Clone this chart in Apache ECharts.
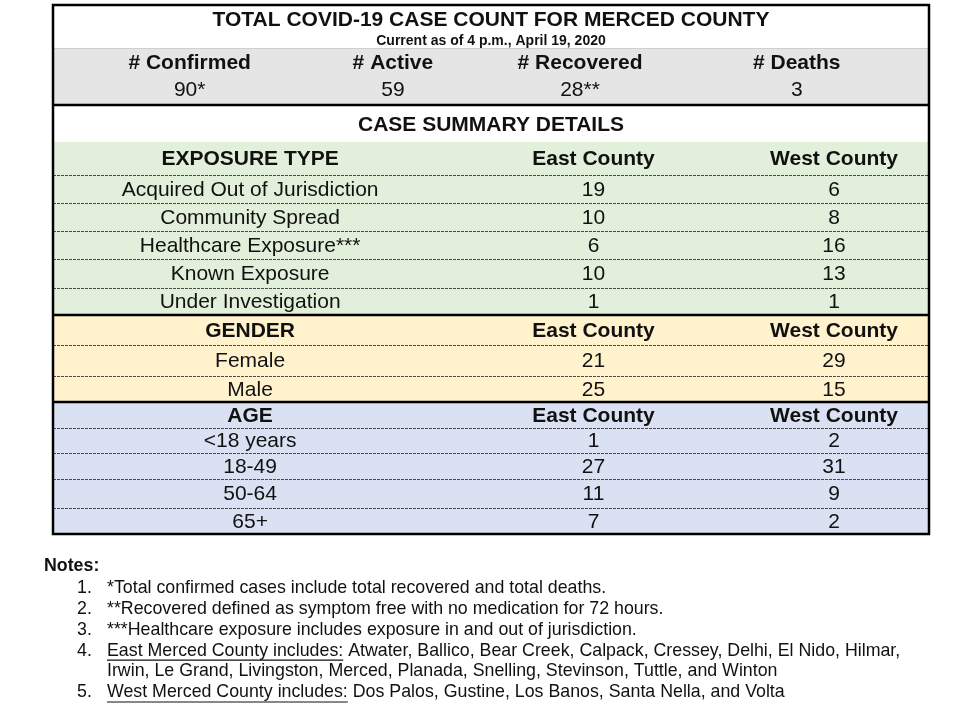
<!DOCTYPE html>
<html>
<head>
<meta charset="utf-8">
<script src="https://cdn.jsdelivr.net/npm/echarts@6/dist/echarts.min.js"></script>
<style>
  html, body { margin: 0; padding: 0; background: #fff; }
  #main { width: 960px; height: 715px; }
</style>
</head>
<body>
<div id="main"></div>
<script>
// ---- data ----
const tableTitle = 'TOTAL COVID-19 CASE COUNT FOR MERCED COUNTY';
const tableSubtitle = 'Current as of 4 p.m., April 19, 2020';
const statNames = ['# Confirmed', '# Active', '# Recovered', '# Deaths'];
const statCounts = [90, 59, 28, 3];
const statMarks = ['*', '', '**', ''];
const summaryTitle = 'CASE SUMMARY DETAILS';
const regionNames = ['East County', 'West County'];

const exposureTypes = ['Acquired Out of Jurisdiction', 'Community Spread', 'Healthcare Exposure***', 'Known Exposure', 'Under Investigation'];
const exposureEast = [19, 10, 6, 10, 1];
const exposureWest = [6, 8, 16, 13, 1];

const genders = ['Female', 'Male'];
const genderEast = [21, 25];
const genderWest = [29, 15];

const ageGroups = ['<18 years', '18-49', '50-64', '65+'];
const ageEast = [1, 27, 11, 7];
const ageWest = [2, 31, 9, 2];

const notes = [
  { lead: '', text: '*Total confirmed cases include total recovered and total deaths.' },
  { lead: '', text: '**Recovered defined as symptom free with no medication for 72 hours.' },
  { lead: '', text: '***Healthcare exposure includes exposure in and out of jurisdiction.' },
  { lead: 'East Merced County includes:', text: ' Atwater, Ballico, Bear Creek, Calpack, Cressey, Delhi, El Nido, Hilmar,', more: 'Irwin, Le Grand, Livingston, Merced, Planada, Snelling, Stevinson, Tuttle, and Winton' },
  { lead: 'West Merced County includes:', text: ' Dos Palos, Gustine, Los Banos, Santa Nella, and Volta' }
];

// ---- layout ----
const FONT = '"Liberation Sans", Arial, sans-serif';
const sections = [
  { head: 'EXPOSURE TYPE', labels: exposureTypes, east: exposureEast, west: exposureWest, color: '#e2efda' },
  { head: 'GENDER', labels: genders, east: genderEast, west: genderWest, color: '#fff2cc' },
  { head: 'AGE', labels: ageGroups, east: ageEast, west: ageWest, color: '#d9e1f2' }
];
// relative row heights (title, stats, summary, then section rows)
const rowHeights = [43, 57, 37, 33, 28, 28, 28, 29, 27, 30, 31, 26, 26, 25, 26, 29, 26];
// column centres as fractions of table width
const colCenters = [0.225, 0.617, 0.8916];
const statCenters = [0.156, 0.388, 0.6016, 0.849];

const rows = [{ kind: 'title' }, { kind: 'stats' }, { kind: 'summary' }];
sections.forEach((s, si) => {
  rows.push({ kind: 'head', s: si });
  s.labels.forEach((l, j) => rows.push({ kind: 'body', s: si, j: j }));
});
const cum = [0];
rowHeights.forEach(h => cum.push(cum[cum.length - 1] + h));
const total = cum[cum.length - 1];

function txt(text, x, y, size, bold) {
  return {
    type: 'text',
    style: {
      text: text, x: x, y: y + 1, align: 'center', verticalAlign: 'middle',
      fontSize: size, fontWeight: bold ? 'bold' : 'normal', fontFamily: FONT, fill: '#111'
    }
  };
}

function renderRow(params, api) {
  const i = api.value(0);
  const r = rows[i];
  const p0 = api.coord([0, cum[i]]);
  const p1 = api.coord([1, cum[i + 1]]);
  const w = p1[0] - p0[0], h = p1[1] - p0[1];
  const cy = (p0[1] + p1[1]) / 2;
  const X = f => p0[0] + f * w;
  const children = [];
  let fill = '#fff';
  if (r.kind === 'stats') fill = '#e6e5e5';
  if (r.kind === 'head' || r.kind === 'body') fill = sections[r.s].color;
  children.push({ type: 'rect', shape: { x: p0[0], y: p0[1], width: w, height: h }, style: { fill: fill } });

  if (r.kind === 'title') {
    children.push(txt(tableTitle, X(0.5), p0[1] + 14, 21, true));
    children.push(txt(tableSubtitle, X(0.5), p0[1] + 35, 14, true));
  } else if (r.kind === 'stats') {
    statNames.forEach((n, k) => {
      children.push(txt(n, X(statCenters[k]), p0[1] + 14, 21, true));
      children.push(txt(statCounts[k] + statMarks[k], X(statCenters[k]), p0[1] + 41, 21, false));
    });
  } else if (r.kind === 'summary') {
    children.push(txt(summaryTitle, X(0.5), cy + 1, 21, true));
  } else if (r.kind === 'head') {
    const s = sections[r.s];
    children.push(txt(s.head, X(colCenters[0]), cy, 21, true));
    children.push(txt(regionNames[0], X(colCenters[1]), cy, 21, true));
    children.push(txt(regionNames[1], X(colCenters[2]), cy, 21, true));
  } else {
    const s = sections[r.s];
    children.push(txt(s.labels[r.j], X(colCenters[0]), cy, 21, false));
    children.push(txt(String(s.east[r.j]), X(colCenters[1]), cy, 21, false));
    children.push(txt(String(s.west[r.j]), X(colCenters[2]), cy, 21, false));
  }
  return { type: 'group', children: children };
}

function renderRule(params, api) {
  const i = api.value(0);
  const r = rows[i];
  const p0 = api.coord([0, cum[i + 1]]);
  const p1 = api.coord([1, cum[i + 1]]);
  const y = Math.round(p0[1]);
  let style = null;
  if (r.kind === 'title') style = { stroke: '#cfcfcf', lineWidth: 1 };
  else if (r.kind === 'stats') style = { stroke: '#000', lineWidth: 2.5 };
  else if (r.kind === 'head') style = { stroke: '#4a4a4a', lineWidth: 1, lineDash: [3, 1] };
  else if (r.kind === 'body') {
    const last = r.j === sections[r.s].labels.length - 1;
    if (last && r.s === sections.length - 1) style = null;
    else if (last) style = { stroke: '#000', lineWidth: 2.5 };
    else style = { stroke: '#4a4a4a', lineWidth: 1, lineDash: [3, 1] };
  }
  if (!style) return { type: 'group', children: [] };
  const off = style.lineWidth === 1 ? 0.5 : 0;
  return {
    type: 'line',
    shape: { x1: p0[0], y1: y + off, x2: p1[0], y2: y + off },
    style: style
  };
}

function renderFrame(params, api) {
  const p0 = api.coord([0, 0]);
  const p1 = api.coord([1, total]);
  return {
    type: 'rect',
    shape: { x: p0[0], y: p0[1], width: p1[0] - p0[0], height: p1[1] - p0[1] },
    style: { fill: 'none', stroke: '#000', lineWidth: 2.5 }
  };
}

// ---- notes (text under the table) ----
const NOTE_SIZE = 17.8;
const measure = document.createElement('canvas').getContext('2d');
measure.font = NOTE_SIZE + 'px ' + FONT;
const noteGraphics = [{
  type: 'text', left: 44, top: 557,
  style: { text: 'Notes:', fontSize: NOTE_SIZE, fontWeight: 'bold', fontFamily: FONT, fill: '#111' }
}];
let ny = 579;
const lineGap = 20.9;
notes.forEach((n, k) => {
  noteGraphics.push({ type: 'text', left: 77, top: ny, style: { text: (k + 1) + '.', fontSize: NOTE_SIZE, fontFamily: FONT, fill: '#111' } });
  let x = 107;
  if (n.lead) {
    noteGraphics.push({ type: 'text', left: x, top: ny, style: { text: n.lead, fontSize: NOTE_SIZE, fontFamily: FONT, fill: '#111' } });
    const lw = measure.measureText(n.lead).width;
    noteGraphics.push({ type: 'line', shape: { x1: x, y1: ny + 18.5, x2: x + lw, y2: ny + 18.5 }, style: { stroke: '#111', lineWidth: 1.2 } });
    x += lw;
  }
  noteGraphics.push({ type: 'text', left: x, top: ny, style: { text: n.text, fontSize: NOTE_SIZE, fontFamily: FONT, fill: '#111' } });
  ny += lineGap;
  if (n.more) {
    noteGraphics.push({ type: 'text', left: 107, top: ny, style: { text: n.more, fontSize: NOTE_SIZE, fontFamily: FONT, fill: '#111' } });
    ny += lineGap;
  }
});

const chart = echarts.init(document.getElementById('main'));
const rowData = rows.map((r, i) => [i]);
chart.setOption({
  animation: false,
  backgroundColor: '#fff',
  grid: { left: 53, top: 5, width: 876, height: total },
  xAxis: { type: 'value', min: 0, max: 1, show: false },
  yAxis: { type: 'value', min: 0, max: total, inverse: true, show: false },
  series: [
    { type: 'custom', renderItem: renderRow, data: rowData, z: 1, silent: true, clip: false },
    { type: 'custom', renderItem: renderRule, data: rowData, z: 2, silent: true, clip: false },
    { type: 'custom', renderItem: renderFrame, data: [[0]], z: 3, silent: true, clip: false }
  ],
  graphic: noteGraphics
});
</script>
</body>
</html>
